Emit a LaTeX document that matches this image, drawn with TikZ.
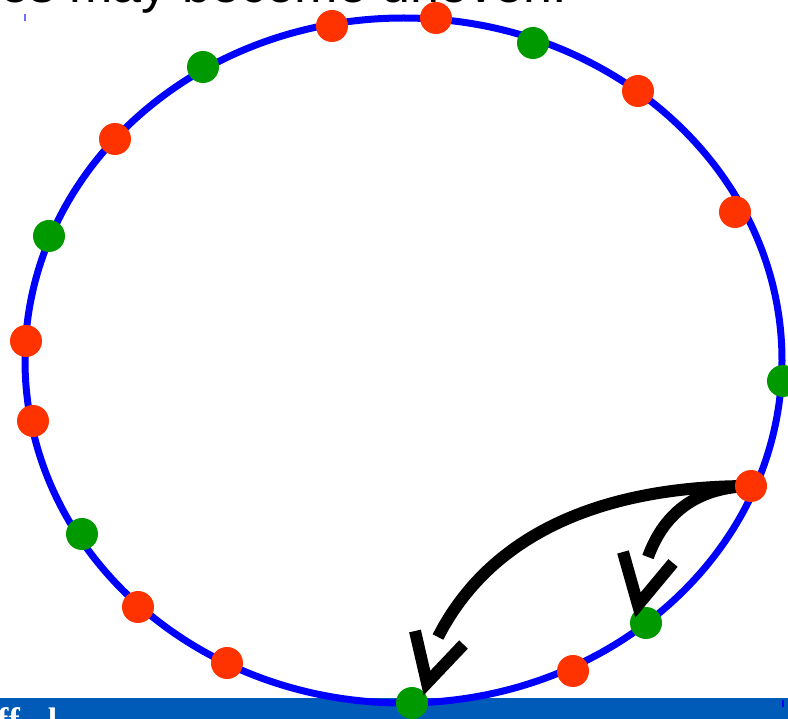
\documentclass[tikz,border=0pt]{standalone}
\usepackage{fontspec}
\setmainfont{Liberation Sans}
\newfontfamily\barfont{Liberation Serif}
\definecolor{ringblue}{RGB}{0,0,255}
\definecolor{dotred}{RGB}{255,51,0}
\definecolor{dotgreen}{RGB}{0,153,0}
\definecolor{barblue}{RGB}{0,90,184}
\definecolor{tickblue}{RGB}{110,110,255}
\pgfdeclarelayer{bg}
\pgfsetlayers{bg,main}
\begin{document}
\begin{tikzpicture}[x=1pt,y=-1pt,
  reddot/.style={circle,fill=dotred,minimum size=32pt,inner sep=0pt,outer sep=0pt},
  greendot/.style={circle,fill=dotgreen,minimum size=32pt,inner sep=0pt,outer sep=0pt},
  ring/.style={draw=ringblue,line width=7pt},
  shaft/.style={line width=12pt},
  headv/.style={line width=12pt,miter limit=10}]
\useasboundingbox (0,0) rectangle (788,719);
\clip (0,0) rectangle (788,719);
\begin{pgfonlayer}{bg}
  \fill[barblue] (0,698) rectangle (788,719);
  \node[anchor=base west,inner sep=0pt,text=white,font=\barfont\bfseries\fontsize{34}{40}\selectfont] (bartext) at (-3,731) {ff\hspace{28pt}l};
  \node[anchor=base west,inner sep=0pt,font=\fontsize{52}{60}\selectfont] (title) at (0,3) {es may become uneven.};
  \draw[tickblue,line width=1.5pt] (25,14) -- (25,21);
  \draw[ringblue,line width=1.5pt] (783,700) -- (783,707);
  \draw[ring] (403.5,360.5) ellipse [x radius=378.5pt, y radius=342.5pt];
\end{pgfonlayer}
% dots
\node[reddot] (r1) at (332,26) {};
\node[reddot] (r2) at (436,18) {};
\node[greendot] (g1) at (533,43) {};
\node[reddot] (r3) at (638,91) {};
\node[reddot] (r4) at (735,212) {};
\node[greendot] (g2) at (783,381) {};
\node[reddot] (r5) at (751,486) {};
\node[greendot] (g3) at (646,623) {};
\node[reddot] (r6) at (573,671) {};
\node[greendot] (g4) at (412,703) {};
\node[reddot] (r7) at (227,663) {};
\node[reddot] (r8) at (138,607) {};
\node[greendot] (g5) at (82,534) {};
\node[reddot] (r9) at (33,421) {};
\node[reddot] (r10) at (26,341) {};
\node[greendot] (g6) at (49,236) {};
\node[reddot] (r11) at (115,139) {};
\node[greendot] (g7) at (203,67) {};
% arrow geometry
\coordinate (bigend) at (438,637);
\coordinate (bigtip) at (427,683);
\coordinate (bigA) at (415,631);
\coordinate (bigB) at (463.5,644.5);
\coordinate (smallend) at (648,557);
\coordinate (smalltip) at (638,605);
\coordinate (smallA) at (623,552);
\coordinate (smallB) at (673,563);
\begin{pgfonlayer}{bg}
  \draw[shaft] (r5.center) .. controls (600,486) and (490,535) .. (bigend);
  \draw[shaft] (r5.center) .. controls (700,487) and (665,510) .. (smallend);
\end{pgfonlayer}
\draw[headv] (bigA) -- (bigtip) -- (bigB);
\draw[headv] (smallA) -- (smalltip) -- (smallB);
\end{tikzpicture}
\end{document}
